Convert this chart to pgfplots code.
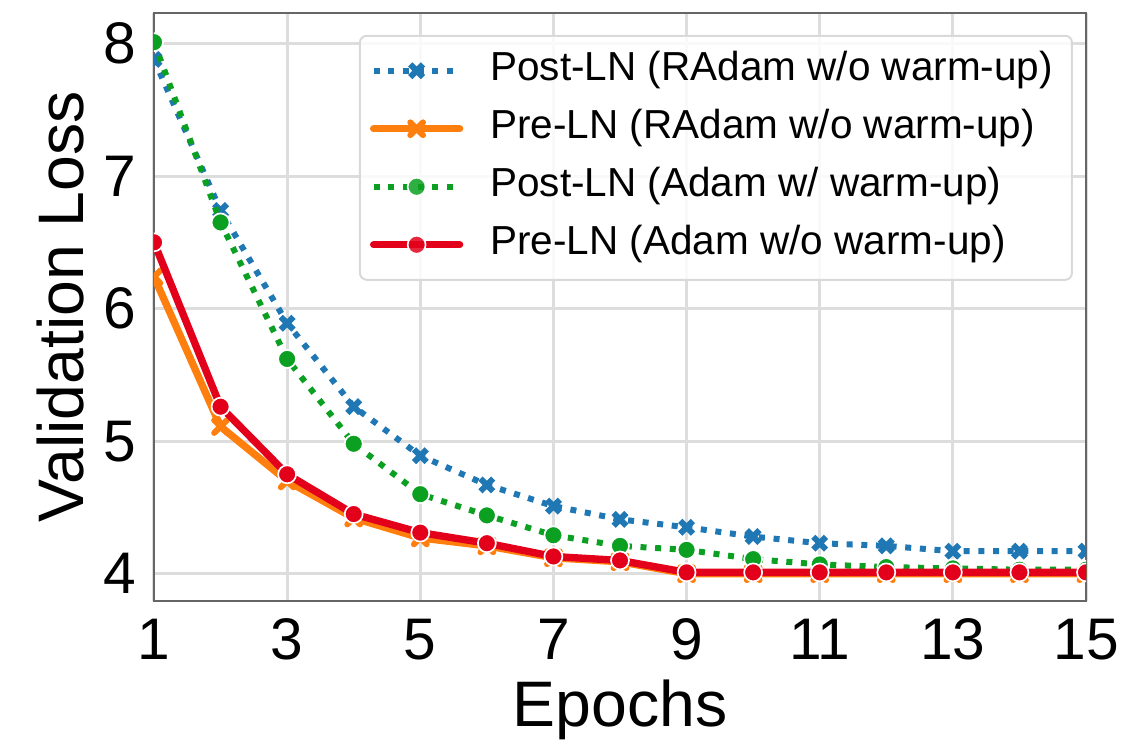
\documentclass[border=0pt]{standalone}
\usepackage{pgfplots}
\pgfplotsset{compat=1.18}
\usepackage{fontspec}
\setmainfont{Liberation Sans}
\setsansfont{Liberation Sans}
\definecolor{cblue}{HTML}{1F77B4}
\definecolor{corange}{HTML}{FF7F0E}
\definecolor{cgreen}{HTML}{0BA021}
\definecolor{cred}{HTML}{E3001B}
\definecolor{gridc}{HTML}{DDDDDD}
\pgfplotsset{
  dotline/.style={line width=1.8pt, line cap=butt, dash pattern=on 1.8pt off 2.6pt},
  solidline/.style={line width=2.2pt, line cap=round, line join=round},
  xmark/.style={mark=x, mark size=2.7pt, mark options={solid, line width=1.8pt}},
  omark/.style={mark=*, mark size=2.7pt, mark options={solid, draw=white, line width=0.5pt}},
}
\begin{document}
\begin{tikzpicture}
\begin{axis}[
  scale only axis,
  width=279.6pt, height=176.4pt,
  xmin=1, xmax=15, ymin=3.794, ymax=8.23,
  xtick={1,3,...,15}, ytick={4,5,6,7,8},
  major tick length=0pt,
  grid=major,
  major grid style={draw=gridc, line width=0.9pt},
  axis line style={draw=black!60, line width=0.8pt},
  tick label style={font=\fontsize{17.6}{20}\selectfont, inner sep=0pt},
  /pgf/number format/assume math mode=true,
  xticklabel shift=5.1pt, yticklabel shift=5.1pt,
  xlabel={Epochs}, ylabel={Validation Loss},
  label style={font=\fontsize{19.3}{22}\selectfont, inner sep=0pt},
  xlabel style={at={(axis description cs:0.5,-0.214)}, anchor=base},
  ylabel style={at={(axis description cs:-0.0998,0.5)}, anchor=center},
  clip marker paths=true,
  legend image code/.code={
    \draw[mark repeat=2, mark phase=2, #1] plot coordinates {(0pt,0pt) (12.9pt,0pt) (25.8pt,0pt)};
  },
  legend cell align=left,
  legend style={
    at={(0.986,0.963)}, anchor=north east,
    font=\fontsize{12.15}{14}\selectfont,
    draw=black!15, line width=0.6pt, rounded corners=2pt,
    fill=white, fill opacity=0.85, text opacity=1,
    inner xsep=3pt, inner ysep=1.8pt, row sep=0pt,
    nodes={inner sep=2.7pt, text height=9pt, text depth=3pt},
    /tikz/every odd column/.append style={column sep=5.4pt},
  },
]
\addplot[color=cblue, dotline, xmark] coordinates {
  (1,7.88) (2,6.74) (3,5.89) (4,5.26) (5,4.89) (6,4.67) (7,4.51) (8,4.41)
  (9,4.35) (10,4.28) (11,4.23) (12,4.21) (13,4.17) (14,4.17) (15,4.17)
};
\addlegendentry{Post-LN (RAdam w/o warm-up)}
\addplot[color=corange, solidline, xmark] coordinates {
  (1,6.24) (2,5.11) (3,4.70) (4,4.42) (5,4.27) (6,4.21) (7,4.12) (8,4.09)
  (9,4.00) (10,4.00) (11,4.00) (12,4.00) (13,4.00) (14,4.00) (15,4.00)
};
\addlegendentry{Pre-LN (RAdam w/o warm-up)}
\addplot[color=cgreen, dotline, omark] coordinates {
  (1,8.01) (2,6.65) (3,5.62) (4,4.98) (5,4.60) (6,4.44) (7,4.29) (8,4.21)
  (9,4.18) (10,4.11) (11,4.07) (12,4.05) (13,4.04) (14,4.03) (15,4.03)
};
\addlegendentry{Post-LN (Adam w/ warm-up)}
\addplot[color=cred, solidline, omark] coordinates {
  (1,6.50) (2,5.26) (3,4.75) (4,4.45) (5,4.31) (6,4.23) (7,4.13) (8,4.10)
  (9,4.01) (10,4.01) (11,4.01) (12,4.01) (13,4.01) (14,4.01) (15,4.01)
};
\addlegendentry{Pre-LN (Adam w/o warm-up)}
\end{axis}
\pgfresetboundingbox
\path (-46.2pt,-42pt) rectangle (293.4pt,180.3pt);
\end{tikzpicture}
\end{document}
